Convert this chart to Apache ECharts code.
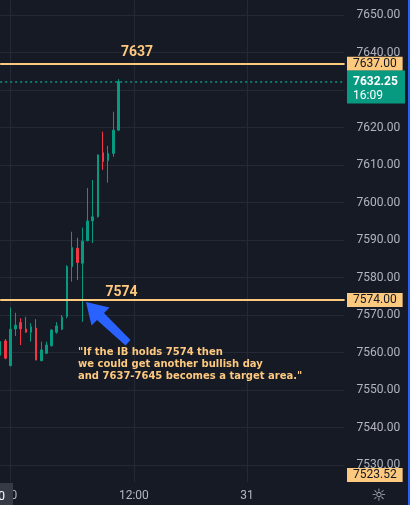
<!DOCTYPE html>
<html>
<head>
<meta charset="utf-8">
<script src="https://cdn.jsdelivr.net/npm/echarts@6/dist/echarts.min.js"></script>
<style>
html, body { margin: 0; padding: 0; background: #161a25; }
#chart { width: 410px; height: 505px; }
</style>
</head>
<body>
<div id="chart"></div>
<script>
// 30 min bars from 29 May 23:00, the 17:00 hour is the session break
var times = [];
var t = Date.UTC(2025, 4, 29, 23, 0);
while (times.length < 68) {
	var dt = new Date(t);
	if (dt.getUTCHours() !== 17) {
		times.push(dt.toISOString().slice(8, 10) + ' ' + dt.toISOString().slice(11, 16));
	}
	t += 30 * 60000;
}
var tickIdx = [2, 26, 48];

var opens  = [7559.3, 7563.1, 7556.5, 7566.3, 7568.0, 7566.3, 7565.4, 7566.5, 7557.8, 7559.8, 7561.8, 7565.4, 7566.2, 7569.6, 7582.9, 7587.8, 7583.8, 7589.8, 7595.1, 7596.2, 7613.3, 7611.2, 7613.1, 7619.3];
var closes = [7562.9, 7558.5, 7566.2, 7567.3, 7566.3, 7565.4, 7566.9, 7558.0, 7560.7, 7562.0, 7566.0, 7567.1, 7569.4, 7582.9, 7588.0, 7584.0, 7589.7, 7595.1, 7596.2, 7612.7, 7610.9, 7613.1, 7619.3, 7632.25];
var lows   = [7559.0, 7558.2, 7556.3, 7564.4, 7562.0, 7565.3, 7562.9, 7557.9, 7557.7, 7559.6, 7561.6, 7565.0, 7566.0, 7569.1, 7578.9, 7579.3, 7568.2, 7589.7, 7589.2, 7596.0, 7608.7, 7605.3, 7612.2, 7619.2];
var highs  = [7564.4, 7563.6, 7572.0, 7570.6, 7569.1, 7569.5, 7567.8, 7568.9, 7562.9, 7562.9, 7566.2, 7568.1, 7570.0, 7583.3, 7592.2, 7590.6, 7593.3, 7603.9, 7606.0, 7612.8, 7618.9, 7615.1, 7624.2, 7632.9];

var levels = [7637, 7574];
var lastPrice = 7632.25;
var lowMark = 7523.52;
var countdown = '16:09';
var note = '"If the IB holds 7574 then\nwe could get another bullish day\nand 7637-7645 becomes a target area."';

var bg = '#161a25';
var gridColor = '#252935';
var txt = '#b2b5be';
var orange = '#fdc97e';
var up = '#089981';
var down = '#f23645';
var font = 'Roboto, "Liberation Sans", sans-serif';

var candles = [];
for (var i = 0; i < opens.length; i++) {
	candles.push([opens[i], closes[i], lows[i], highs[i]]);
}

function showTick(idx) {
	return tickIdx.indexOf(idx) >= 0;
}

var chart = echarts.init(document.getElementById('chart'), null, { renderer: 'canvas' });

var option = {
	backgroundColor: bg,
	animation: false,
	grid: [
		{ left: 0.17, right: 65.4, top: -22.5, height: 525, outerBoundsMode: 'none', containLabel: false },
		{ left: 0.17, right: 65.4, top: 0, height: 482, outerBoundsMode: 'none', containLabel: false }
	],
	xAxis: [{
		type: 'category',
		gridIndex: 0,
		data: times,
		boundaryGap: false,
		show: false
	}, {
		type: 'category',
		gridIndex: 1,
		data: times,
		boundaryGap: false,
		axisLine: { show: false },
		axisTick: { show: false },
		splitLine: {
			show: true,
			interval: function (idx) { return showTick(idx); },
			lineStyle: { color: gridColor, width: 1 }
		},
		axisLabel: {
			interval: function (idx) { return showTick(idx); },
			color: txt,
			fontSize: 12,
			fontFamily: font,
			margin: 8,
			formatter: function (v) {
				var hm = v.slice(3);
				return hm === '00:00' ? String(parseInt(v.slice(0, 2), 10)) : hm;
			}
		}
	}],
	yAxis: [{
		type: 'value',
		gridIndex: 0,
		position: 'right',
		min: 7520,
		max: 7660,
		interval: 10,
		axisLine: { show: false },
		axisTick: { show: false },
		splitLine: { showMinLine: false, showMaxLine: false, lineStyle: { color: gridColor, width: 1 } },
		axisLabel: {
			color: txt,
			fontSize: 12,
			fontFamily: font,
			margin: 12,
			showMinLabel: false,
			showMaxLabel: false,
			formatter: function (v) { return v.toFixed(2); }
		}
	}, {
		type: 'value',
		gridIndex: 1,
		show: false,
		min: 0,
		max: 1
	}],
	series: [{
		type: 'candlestick',
		xAxisIndex: 0,
		yAxisIndex: 0,
		data: candles,
		barWidth: 2,
		itemStyle: {
			color: up,
			color0: down,
			borderColor: up,
			borderColor0: down,
			borderWidth: 1
		},
		markLine: {
			silent: true,
			symbol: ['none', 'none'],
			label: { show: false },
			data: [
				{ yAxis: levels[0], lineStyle: { color: orange, width: 2, type: 'solid' } },
				{ yAxis: levels[1], lineStyle: { color: orange, width: 2, type: 'solid' } },
				{ yAxis: lastPrice, lineStyle: { color: up, width: 1.5, type: [2, 3] } }
			]
		}
	}]
};
chart.setOption(option);

function py(v) {
	return chart.convertToPixel({ yAxisIndex: 0 }, v);
}

var priceBox = function (val, y) {
	return {
		type: 'text',
		x: 347,
		y: y,
		z: 20,
		style: {
			text: val.toFixed(2),
			fill: '#131722',
			font: '12px ' + font,
			verticalAlign: 'middle',
			backgroundColor: orange,
			padding: [1, 6, 1, 6],
			lineHeight: 12
		}
	};
};

var yLast = py(lastPrice);
var plotBottom = 482;

chart.setOption({
	graphic: [
		// level captions
		{ type: 'text', x: 137, y: py(levels[0]) - 11, z: 10,
			style: { text: String(levels[0]), fill: orange, font: 'bold 14px ' + font, align: 'center', verticalAlign: 'middle' } },
		{ type: 'text', x: 121.5, y: py(levels[1]) - 8, z: 10,
			style: { text: String(levels[1]), fill: orange, font: 'bold 14px ' + font, align: 'center', verticalAlign: 'middle' } },
		// note
		{ type: 'text', x: 78, y: 346, z: 10,
			style: { text: note, fill: orange, font: 'bold 10px "DejaVu Sans"', lineHeight: 12, verticalAlign: 'top' } },
		// arrow
		{ type: 'polygon', z: 10,
			shape: { points: [[86, 302], [109.5, 307.5], [104, 313], [130.5, 340], [125.5, 345.5], [97, 320], [91.5, 325.5]] },
			style: { fill: '#2962ff' } },
		// price scale labels
		priceBox(levels[0], py(levels[0])),
		priceBox(levels[1], py(levels[1])),
		priceBox(lowMark, Math.min(py(lowMark), plotBottom - 7)),
		{ type: 'rect', z: 20, shape: { x: 347, y: yLast - 11, width: 58, height: 33 }, style: { fill: up } },
		{ type: 'text', x: 353, y: yLast, z: 21,
			style: { text: lastPrice.toFixed(2), fill: '#ffffff', font: 'bold 12px ' + font, verticalAlign: 'middle' } },
		{ type: 'text', x: 353, y: yLast + 14, z: 21,
			style: { text: countdown, fill: '#ffffff', font: '12px ' + font, verticalAlign: 'middle' } },
		// crosshair time label, cut at the left edge
		{ type: 'rect', z: 20, shape: { x: 0, y: 483, width: 13, height: 22 }, style: { fill: '#363a45' } },
		{ type: 'text', x: 5, y: 497, z: 21,
			style: { text: "Fri 30 May '25  00:00", fill: '#ffffff', font: '12px ' + font, align: 'right', verticalAlign: 'middle' } },
		// settings icon
		{ type: 'text', x: 379, y: 497, z: 21,
			style: { text: '\u263C', fill: txt, font: '17px "DejaVu Sans"', align: 'center', verticalAlign: 'middle' } },
		// right edge
		{ type: 'rect', z: 30, shape: { x: 408, y: 0, width: 2, height: 505 }, style: { fill: '#2962ff' } }
	]
});
</script>
</body>
</html>
